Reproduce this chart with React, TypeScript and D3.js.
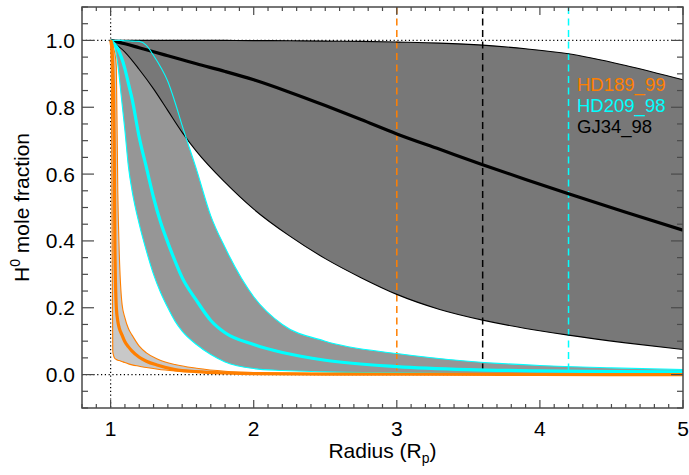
import React from 'react';
import * as d3 from 'd3';

// ---- data ----
const gj34X = [1, 1.1, 1.2, 1.3, 1.4, 1.5, 1.6, 1.8, 2, 2.25, 2.5, 2.75, 3, 3.3, 3.6, 3.9, 4.2, 4.6, 5];
const gj34Lower = [1, 0.965, 0.913, 0.855, 0.79, 0.725, 0.668, 0.575, 0.495, 0.415, 0.347, 0.29, 0.24, 0.195, 0.163, 0.138, 0.118, 0.095, 0.075];
const gj34Mid = [1, 0.99, 0.978, 0.966, 0.954, 0.942, 0.93, 0.907, 0.882, 0.845, 0.805, 0.763, 0.72, 0.674, 0.628, 0.584, 0.541, 0.486, 0.432];
const gj34Upper = [1, 1, 1, 1, 1, 1, 1, 1, 0.9995, 0.999, 0.998, 0.997, 0.995, 0.992, 0.986, 0.975, 0.96, 0.925, 0.882];

const hd209X = [1, 1.025, 1.05, 1.075, 1.1, 1.125, 1.15, 1.2, 1.25, 1.3, 1.35, 1.4, 1.45, 1.5, 1.6, 1.7, 1.8, 2, 2.2, 2.5, 3, 3.5, 4, 4.5, 5];
const hd209Lower = [1, 0.985, 0.93, 0.83, 0.73, 0.62, 0.55, 0.45, 0.37, 0.3, 0.245, 0.2, 0.16, 0.13, 0.09, 0.06, 0.038, 0.018, 0.012, 0.008, 0.005, 0.003, 0.002, 0.002, 0.001];
const hd209Mid = [1, 0.99, 0.975, 0.95, 0.915, 0.87, 0.825, 0.71, 0.62, 0.53, 0.455, 0.395, 0.34, 0.29, 0.222, 0.162, 0.125, 0.09, 0.066, 0.043, 0.024, 0.015, 0.011, 0.009, 0.008];
const hd209Upper = [1, 1, 1, 1, 0.999, 0.999, 0.998, 0.997, 0.985, 0.955, 0.92, 0.877, 0.815, 0.745, 0.614, 0.475, 0.38, 0.233, 0.15, 0.1, 0.063, 0.04, 0.027, 0.02, 0.015];

const hd189X = [1, 1.005, 1.01, 1.015, 1.02, 1.025, 1.03, 1.04, 1.05, 1.06, 1.08, 1.1, 1.125, 1.15, 1.2, 1.25, 1.33, 1.45, 1.6, 1.8, 2, 2.5, 3, 4, 5];
const hd189Lower = [1, 0.9, 0.45, 0.07, 0.058, 0.052, 0.048, 0.045, 0.043, 0.042, 0.039, 0.036, 0.032, 0.029, 0.025, 0.021, 0.016, 0.011, 0.007, 0.004, 0.003, 0.0015, 0.0008, 0.0002, 0];
const hd189Mid = [1, 0.99, 0.97, 0.93, 0.85, 0.7, 0.38, 0.2, 0.16, 0.14, 0.118, 0.098, 0.083, 0.07, 0.052, 0.04, 0.028, 0.015, 0.009, 0.005, 0.003, 0.0015, 0.001, 0.0003, 0];
const hd189Upper = [1, 1, 0.995, 0.99, 0.98, 0.97, 0.96, 0.92, 0.55, 0.37, 0.21, 0.17, 0.137, 0.118, 0.085, 0.065, 0.046, 0.03, 0.019, 0.01, 0.006, 0.003, 0.002, 0.001, 0.0005];

const seriesNames = ['HD189_99', 'HD209_98', 'GJ34_98'];
const seriesColors = ['#ff7f00', '#00ffff', '#000000'];
const bandColors = ['#c8c8c8', '#969696', '#787878'];
const markerX = [3.0, 3.6, 4.2];
const markerColors = ['#ff7f00', '#000000', '#00ffff'];

const xTickLabels = [1, 2, 3, 4, 5];
const yTickLabels = [0, 0.2, 0.4, 0.6, 0.8, 1.0];

const W = 689;
const H = 475;
const L = 82, R = 683, T = 7, B = 408;

export default function App() {
  const x = d3.scaleLinear().domain([0.8, 5]).range([L, R]);
  const y = d3.scaleLinear().domain([-0.1, 1.1]).range([B, T]);

  const mk = (xs: number[], ys: number[]) => xs.map((v, i) => [v, ys[i]] as [number, number]);
  const line = d3.line<[number, number]>().x(d => x(d[0])).y(d => y(d[1])).curve(d3.curveMonotoneX);
  const area = (xs: number[], lo: number[], hi: number[]) =>
    d3.area<number>().x((_, i) => x(xs[i])).y0((_, i) => y(lo[i])).y1((_, i) => y(hi[i])).curve(d3.curveMonotoneX)(xs) || '';

  const bands = [
    { xs: hd189X, lo: hd189Lower, mid: hd189Mid, hi: hd189Upper, fill: bandColors[0], color: seriesColors[0] },
    { xs: hd209X, lo: hd209Lower, mid: hd209Mid, hi: hd209Upper, fill: bandColors[1], color: seriesColors[1] },
    { xs: gj34X, lo: gj34Lower, mid: gj34Mid, hi: gj34Upper, fill: bandColors[2], color: seriesColors[2] },
  ];

  const xMinor = d3.range(8, 51).map(i => i / 10);
  const yMinor = d3.range(-2, 23).map(i => +(i * 0.05).toFixed(2));
  const isXMajor = (v: number) => Math.abs(v - Math.round(v)) < 1e-6;
  const isYMajor = (v: number) => Math.abs(v / 0.2 - Math.round(v / 0.2)) < 1e-6;

  const axisColor = '#4a4a4a';
  const font = "'Liberation Sans', Arial, Helvetica, sans-serif";

  return (
    <svg width={W} height={H} style={{ position: 'absolute', left: 0, top: 0, background: '#fff' }} fontFamily={font}>
      <defs>
        <clipPath id="plot">
          <rect x={L} y={T} width={R - L} height={B - T} />
        </clipPath>
      </defs>
      <g clipPath="url(#plot)">
        {bands.map((b, i) => (
          <path key={'f' + i} d={area(b.xs, b.lo, b.hi)} fill={b.fill} stroke="none" />
        ))}
        <line x1={x(1)} x2={x(1)} y1={T} y2={B} stroke="#000" strokeWidth={1.2} strokeDasharray="1.2,2.6" />
        <line x1={L} x2={R} y1={y(1)} y2={y(1)} stroke="#000" strokeWidth={1.2} strokeDasharray="1.2,2.6" />
        <line x1={L} x2={R} y1={y(0)} y2={y(0)} stroke="#000" strokeWidth={1.2} strokeDasharray="1.2,2.6" />
        {markerX.map((m, i) => (
          <line key={'m' + i} x1={x(m)} x2={x(m)} y1={T} y2={y(0)} stroke={markerColors[i]} strokeWidth={1.5} strokeDasharray="7,4.5" />
        ))}
        {[...bands].reverse().map((b, i) => (
          <g key={'l' + i}>
            <path d={line(mk(b.xs, b.lo)) || ''} fill="none" stroke={b.color} strokeWidth={1.1} />
            <path d={line(mk(b.xs, b.hi)) || ''} fill="none" stroke={b.color} strokeWidth={1.1} />
            <path d={line(mk(b.xs, b.mid)) || ''} fill="none" stroke={b.color} strokeWidth={3.2} />
          </g>
        ))}
      </g>
      <rect x={L} y={T} width={R - L} height={B - T} fill="none" stroke={axisColor} strokeWidth={1.5} />
      {xMinor.map((v, i) => {
        const len = isXMajor(v) ? 8 : 4;
        return (
          <g key={'xt' + i} stroke={axisColor} strokeWidth={1.2}>
            <line x1={x(v)} x2={x(v)} y1={B} y2={B - len} />
            <line x1={x(v)} x2={x(v)} y1={T} y2={T + len} />
          </g>
        );
      })}
      {yMinor.map((v, i) => {
        const len = isYMajor(v) ? 12 : 6;
        return (
          <g key={'yt' + i} stroke={axisColor} strokeWidth={1.2}>
            <line x1={L} x2={L + len} y1={y(v)} y2={y(v)} />
            <line x1={R} x2={R - len} y1={y(v)} y2={y(v)} />
          </g>
        );
      })}
      {xTickLabels.map(v => (
        <text key={'xl' + v} x={x(v)} y={436} textAnchor="middle" fontSize={21} fill="#000">{v}</text>
      ))}
      {yTickLabels.map(v => (
        <text key={'yl' + v} x={75} y={y(v) + 7.5} textAnchor="end" fontSize={21} fill="#000">{v.toFixed(1)}</text>
      ))}
      <text x={(L + R) / 2} y={458} textAnchor="middle" fontSize={21} fill="#000">
        Radius (R<tspan fontSize={14} dy={5}>p</tspan><tspan dy={-5}>)</tspan>
      </text>
      <text transform={`translate(29,${(T + B) / 2}) rotate(-90)`} textAnchor="middle" fontSize={21} fill="#000">
        H<tspan fontSize={14} dy={-9}>0</tspan><tspan dy={9}> mole fraction</tspan>
      </text>
      {seriesNames.map((n, i) => (
        <text key={'lg' + i} x={577} y={91 + i * 21} fontSize={18.5} fill={seriesColors[i]}>{n}</text>
      ))}
    </svg>
  );
}
